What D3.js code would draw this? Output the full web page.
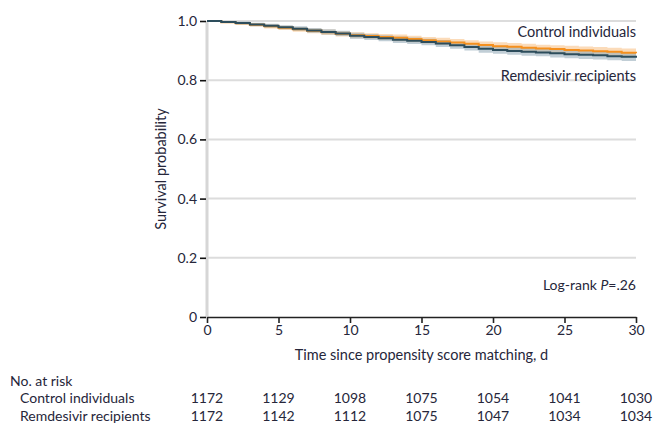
<!DOCTYPE html>
<html><head><meta charset="utf-8">
<script src="https://cdn.jsdelivr.net/npm/d3@7"></script>
<style>
html,body{margin:0;padding:0;background:#fff;}
svg{display:block;}
text{font-family:Lato,"DejaVu Sans Condensed",sans-serif;fill:#26263a;}
</style></head>
<body><svg id="c" width="653" height="425"></svg>
<script>
const days = d3.range(0, 31);
const controlSurv = [1.000,0.996,0.992,0.987,0.982,0.977,0.972,0.967,0.962,0.957,0.952,0.949,0.946,0.943,0.939,0.935,0.931,0.927,0.923,0.919,0.915,0.913,0.910,0.907,0.905,0.902,0.900,0.898,0.896,0.893,0.891];
const remdesivirSurv = [1.000,0.997,0.993,0.988,0.984,0.979,0.974,0.968,0.963,0.958,0.950,0.946,0.942,0.937,0.933,0.929,0.924,0.918,0.912,0.906,0.902,0.899,0.896,0.894,0.891,0.888,0.886,0.884,0.881,0.879,0.876];
const controlHalfCI = [0,0.003,0.005,0.006,0.007,0.007,0.008,0.008,0.009,0.009,0.010,0.010,0.010,0.011,0.011,0.011,0.012,0.012,0.012,0.012,0.013,0.013,0.013,0.013,0.013,0.014,0.014,0.014,0.014,0.014,0.014];
const remdesivirHalfCI = [0,0.003,0.005,0.006,0.007,0.007,0.008,0.008,0.009,0.009,0.010,0.010,0.010,0.011,0.011,0.011,0.012,0.012,0.012,0.013,0.013,0.013,0.013,0.013,0.014,0.014,0.014,0.014,0.014,0.014,0.014];
const xTicks = [0,5,10,15,20,25,30];
const yTicks = [0,0.2,0.4,0.6,0.8,1.0];
const yTickLabels = ["0","0.2","0.4","0.6","0.8","1.0"];
const groupNames = ["Control individuals","Remdesivir recipients"];
const riskControl = [1172,1129,1098,1075,1054,1041,1030];
const riskRemdesivir = [1172,1142,1112,1075,1047,1034,1034];

const svg = d3.select("#c");
const x = d3.scaleLinear().domain([0,30]).range([207,636]);
const y = d3.scaleLinear().domain([0,1]).range([317,21]);

// gridlines
svg.append("g").selectAll("line").data(yTicks.filter(d=>d>0)).join("line")
  .attr("x1",x(0)).attr("x2",x(30)).attr("y1",d=>y(d)).attr("y2",d=>y(d))
  .attr("stroke","#dcdcdc").attr("stroke-width",2);
// y axis line (light)
svg.append("line").attr("x1",x(0)).attr("x2",x(0)).attr("y1",y(1)).attr("y2",y(0))
  .attr("stroke","#d6d6d6").attr("stroke-width",3);

// bands and lines
const series = [
  {s:controlSurv, h:controlHalfCI, line:"#f5901e", band:"#f9c38a"},
  {s:remdesivirSurv, h:remdesivirHalfCI, line:"#2d4d5c", band:"#98adba"}
];
const area = d3.area().curve(d3.curveStepAfter).x(d=>x(d.t)).y0(d=>y(d.lo)).y1(d=>y(d.hi));
const line = d3.line().curve(d3.curveStepAfter).x(d=>x(d.t)).y(d=>y(d.v));
series.forEach(sr=>{
  const pts = days.map((t,i)=>({t, v:sr.s[i], lo:sr.s[i]-sr.h[i], hi:Math.min(1,sr.s[i]+sr.h[i])}));
  svg.append("path").datum(pts).attr("d",area).attr("fill",sr.band).attr("opacity",0.6);
});
series.forEach(sr=>{
  const pts = days.map((t,i)=>({t, v:sr.s[i]}));
  svg.append("path").datum(pts).attr("d",line).attr("fill","none").attr("stroke",sr.line).attr("stroke-width",2);
});

// y axis ticks
const yAx = svg.append("g").attr("transform",`translate(${x(0)-1},0)`)
  .call(d3.axisLeft(y).tickValues(yTicks).tickSize(6).tickFormat((d,i)=>yTickLabels[i]).tickPadding(3));
yAx.select(".domain").remove();
yAx.selectAll(".tick line").attr("stroke","#111").attr("stroke-width",1.6);
yAx.selectAll("text").attr("font-size",14).style("fill","#26263a");

// x axis
const xAx = svg.append("g").attr("transform",`translate(0,${y(0)})`)
  .call(d3.axisBottom(x).tickValues(xTicks).tickSize(6).tickSizeOuter(0).tickPadding(2));
xAx.select(".domain").attr("stroke","#222").attr("stroke-width",1.3);
xAx.selectAll(".tick line").attr("stroke","#222").attr("stroke-width",1.6);
xAx.selectAll("text").attr("font-size",14).style("fill","#26263a");

// labels
svg.append("text").attr("x",x(30)).attr("y",37).attr("text-anchor","end").attr("font-size",14.5).text(groupNames[0]);
svg.append("text").attr("x",x(30)).attr("y",81).attr("text-anchor","end").attr("font-size",14.5).text(groupNames[1]);
const lr = svg.append("text").attr("x",x(30)).attr("y",290).attr("text-anchor","end").attr("font-size",14);
lr.append("tspan").text("Log-rank ");
lr.append("tspan").attr("font-style","italic").text("P");
lr.append("tspan").text("=.26");

svg.append("text").attr("transform",`translate(166,${(y(0)+y(1))/2}) rotate(-90)`)
  .attr("text-anchor","middle").attr("font-size",14.5).text("Survival probability");
svg.append("text").attr("x",(x(0)+x(30))/2).attr("y",360).attr("text-anchor","middle").attr("font-size",14.5)
  .text("Time since propensity score matching, d");

// at risk table
svg.append("text").attr("x",10).attr("y",386).attr("font-size",14).text("No. at risk");
const rows = [riskControl, riskRemdesivir];
rows.forEach((r,ri)=>{
  const yy = 403 + ri*18;
  svg.append("text").attr("x",20).attr("y",yy).attr("font-size",14).text(groupNames[ri]);
  svg.append("g").selectAll("text").data(r).join("text")
    .attr("x",(d,i)=>x(xTicks[i])).attr("y",yy).attr("text-anchor","middle").attr("font-size",14).text(d=>d);
});
</script></body></html>
